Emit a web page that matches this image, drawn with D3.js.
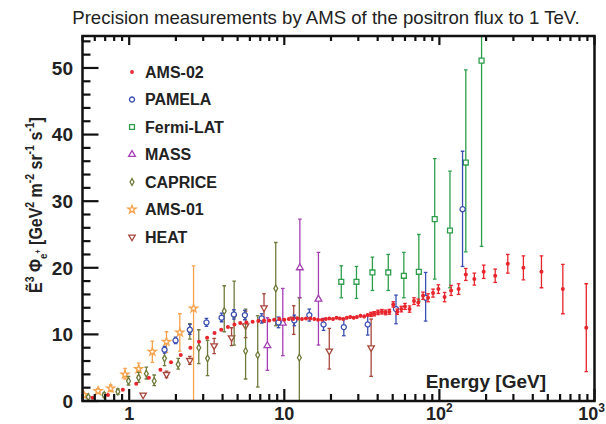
<!DOCTYPE html>
<html>
<head>
<meta charset="utf-8">
<script src="https://cdn.jsdelivr.net/npm/d3@7/dist/d3.min.js"></script>
<style>
  body { margin: 0; background: #fff; }
  svg { display: block; font-family: "Liberation Sans", Arial, Helvetica, sans-serif; }
</style>
</head>
<body>
<div id="vis"></div>
<script>
// AMS-02: [energy GeV, value, error]
const ams02 = [
  [0.58,0.5,0.05],[0.73,0.9,0.06],[0.91,1.7,0.07],[1.11,2.6,0.08],[1.34,3.5,0.09],[1.59,4.7,0.1],
  [1.86,5.8,0.1],[2.15,6.9,0.12],[2.48,8.0,0.12],[2.82,8.9,0.13],[3.18,9.5,0.13],[3.55,10.2,0.14],
  [3.92,10.7,0.14],[4.33,11.1,0.15],[4.77,11.5,0.15],[5.2,11.7,0.15],[5.7,11.8,0.15],[6.25,11.9,0.15],
  [6.8,12.0,0.15],[7.4,12.1,0.15],[8.0,12.1,0.16],[8.6,12.2,0.16],[9.3,12.3,0.16],[10.0,12.2,0.17],
  [10.7,12.3,0.17],[11.4,12.3,0.17],[12.2,12.4,0.18],[13.0,12.3,0.18],[13.8,12.4,0.19],[14.7,12.4,0.19],
  [15.6,12.3,0.2],[16.5,12.2,0.2],[17.5,12.2,0.21],[18.5,12.3,0.21],[19.5,12.4,0.22],[20.6,12.3,0.22],
  [21.7,12.5,0.23],[22.8,12.4,0.23],[24.0,12.3,0.24],[25.3,12.5,0.25],[26.6,12.6,0.25],[28.0,12.5,0.26],
  [29.4,12.6,0.27],[31.0,12.8,0.28],[32.7,12.7,0.29],[34.4,12.9,0.3],[36.2,13.0,0.31],[38.0,13.1,0.32],
  [40.2,13.3,0.33],[42.6,13.4,0.34],[45.0,13.3,0.35],[47.6,13.4,0.37],[50.4,14.5,0.4],[53.5,13.4,0.4],
  [56.8,13.8,0.42],[60.0,14.2,0.45],[64.2,13.8,0.47],[68.6,15.0,0.5],[73.1,14.8,0.5],[78.4,15.8,0.55],
  [84.5,15.5,0.6],[91.0,16.2,0.6],[98.5,16.8,0.65],[108,15.6,0.7],[119,16.6,0.75],[133,16.8,0.8],
  [148,19.0,0.9],[168,18.3,0.9],[193,19.4,1.0],[229,18.8,1.0],[276,20.6,1.4],[348,20.0,1.8],
  [455,19.4,2.4],[625,16.8,3.7],[885,11.0,6.6]
];
// other experiments: [energy GeV, value, low, high]
const pamela = [
  [1.69,7.7,7.2,8.2],[1.99,9.1,8.6,9.6],[2.46,10.7,10.0,11.5],[3.15,11.8,11.2,12.4],[3.94,12.5,11.9,13.2],
  [4.73,13.0,12.3,13.7],[5.57,12.9,12.2,13.6],[7.15,12.4,11.7,13.1],[9.17,11.8,11.0,12.6],[11.6,12.1,11.3,12.9],
  [14.5,12.9,12.0,13.8],[17.9,11.5,10.6,12.4],[24.2,11.1,9.8,12.3],[34.5,11.5,9.9,12.9],[52.5,13.8,11.6,15.9],
  [81.5,15.5,12.0,19.3],[141,28.8,20.2,37.5]
];
const fermi = [
  [23.3,17.9,15.5,20.3],[29.2,17.9,15.4,20.2],[37,19.3,16.6,21.6],[46.8,19.3,16.6,22.0],[59,18.8,15.5,22.3],
  [73.7,19.4,15.0,25.0],[93.3,27.3,18.3,36.4],[117,25.6,17.0,34.5],[148,35.8,22.4,49.7],[187,51.1,23.2,60]
];
const mass = [
  [7.78,8.3,4.6,12.5],[9.78,11.7,6.8,16.9],[12.6,20.0,15.5,27.3],[16.6,15.3,8.4,22.3]
];
const caprice = [
  [0.545,0.6,0.4,0.8],[0.69,0.9,0.6,1.2],[0.845,1.4,1.0,1.8],[0.99,3.0,2.4,3.7],[1.15,3.5,2.8,4.3],
  [1.29,4.1,3.3,5.1],[1.45,3.0,2.3,3.9],[1.69,6.4,5.3,7.5],[2.07,5.5,4.8,6.4],[2.46,10.5,9.3,11.6],
  [2.81,8.0,5.6,10.7],[3.2,6.4,3.8,9.1],[4.1,13.5,10.4,17.3],[4.75,12.8,8.4,18.0],[5.63,7.5,3.3,13.8],
  [6.74,6.9,2.1,12.8],[8.81,16.9,11.3,23.8],[12.5,6.5,0,15.5]
];
const ams01 = [
  [0.51,0.9,0.6,1.2],[0.63,1.5,1.1,1.9],[0.76,1.9,1.4,2.4],[0.94,4.0,3.3,4.9],[1.15,4.8,3.8,5.7],
  [1.41,7.4,5.8,9.0],[1.74,8.9,7.3,10.4],[2.12,10.3,7.5,13.1],[2.6,13.9,0,20.3]
];
const heat = [
  [1.23,0.9,0.7,1.1],[1.74,4.0,3.5,4.5],[2.46,6.1,5.5,6.7],[3.53,8.3,7.1,9.4],[4.57,9.5,8.3,11.0],
  [5.63,11.3,9.5,13.5],[7.4,14.0,11.8,16.1],[11.5,12.3,10.0,14.3],[19.5,7.5,4.8,10.9],[36.3,8.0,3.7,12.3]
];

const xTickLabels = [[1, "1", ""], [10, "10", ""], [100, "10", "2"], [1000, "10", "3"]];
const yTickLabels = [0, 10, 20, 30, 40, 50];

const W = 606, H = 424;
const pLeft = 82.5, pRight = 594.5, pTop = 36, pBottom = 401;

var svg = d3.select("#vis").append("svg").attr("width", W).attr("height", H);

var x = d3.scaleLog().domain([0.5, 1000]).range([pLeft, pRight]);
var y = d3.scaleLinear().domain([0, 54.8]).range([pBottom, pTop]);

svg.append("text")
  .attr("x", 326).attr("y", 24)
  .attr("text-anchor", "middle")
  .style("font-size", "18.6px")
  .attr("fill", "#222")
  .text("Precision measurements by AMS of the positron flux to 1 TeV.");

svg.append("clipPath").attr("id", "plotclip")
  .append("rect").attr("x", pLeft).attr("y", pTop).attr("width", pRight - pLeft).attr("height", pBottom - pTop);

var plot = svg.append("g").attr("clip-path", "url(#plotclip)");

// series styles
const series = [
  { name: "HEAT", data: heat, color: "#a8473b", sym: d3.symbolTriangle, size: 18, rot: 180 },
  { name: "AMS-01", data: ams01, color: "#f7a24c", sym: d3.symbolStar, size: 20, rot: 0 },
  { name: "CAPRICE", data: caprice, color: "#6f7b3b", sym: d3.symbolDiamond, size: 13, rot: 0 },
  { name: "MASS", data: mass, color: "#a53fb3", sym: d3.symbolTriangle, size: 20, rot: 0 },
  { name: "Fermi-LAT", data: fermi, color: "#2f9e4c", sym: d3.symbolSquare, size: 24, rot: 0 },
  { name: "PAMELA", data: pamela, color: "#3b4fb2", sym: d3.symbolCircle, size: 20, rot: 0 }
];

series.forEach(s => {
  var g = plot.append("g");
  s.data.forEach(d => {
    var cx = x(d[0]);
    g.append("line")
      .attr("x1", cx).attr("x2", cx)
      .attr("y1", y(d[2])).attr("y2", y(d[3]))
      .attr("stroke", s.color).attr("stroke-width", 1.3);
    [d[2], d[3]].forEach(v => {
      g.append("line")
        .attr("x1", cx - 1.8).attr("x2", cx + 1.8)
        .attr("y1", y(v)).attr("y2", y(v))
        .attr("stroke", s.color).attr("stroke-width", 1.3);
    });
    g.append("path")
      .attr("d", d3.symbol().type(s.sym).size(s.size))
      .attr("transform", "translate(" + cx + "," + y(d[1]) + ") rotate(" + s.rot + ")")
      .attr("fill", "#fff")
      .attr("stroke", s.color).attr("stroke-width", 1.3);
  });
});

// AMS-02 on top
var red = "#e8242c";
var ga = plot.append("g");
ams02.forEach(d => {
  var cx = x(d[0]);
  ga.append("line")
    .attr("x1", cx).attr("x2", cx)
    .attr("y1", y(d[1] - d[2])).attr("y2", y(d[1] + d[2]))
    .attr("stroke", red).attr("stroke-width", 1.3);
  if (d[2] > 0.3) {
    [d[1] - d[2], d[1] + d[2]].forEach(v => {
      ga.append("line")
        .attr("x1", cx - 1.8).attr("x2", cx + 1.8)
        .attr("y1", y(v)).attr("y2", y(v))
        .attr("stroke", red).attr("stroke-width", 1.3);
    });
  }
  ga.append("circle")
    .attr("cx", cx).attr("cy", y(d[1])).attr("r", 2)
    .attr("fill", red);
});

// frame and ticks
var axes = svg.append("g").attr("stroke", "#111");
var decades = [1, 10, 100, 1000];
x.ticks().forEach(t => {
  var major = decades.indexOf(t) >= 0;
  axes.append("line")
    .attr("x1", x(t)).attr("x2", x(t))
    .attr("y1", pBottom).attr("y2", pBottom - (major ? 12 : 7))
    .attr("stroke-width", 2.2);
  axes.append("line")
    .attr("x1", x(t)).attr("x2", x(t))
    .attr("y1", pTop).attr("y2", pTop + (major ? 9 : 5))
    .attr("stroke-width", 2.2);
});
d3.range(0, 55, 2).forEach(t => {
  var major = t % 10 === 0;
  axes.append("line")
    .attr("x1", pLeft).attr("x2", pLeft + (major ? 16 : 8))
    .attr("y1", y(t)).attr("y2", y(t))
    .attr("stroke-width", 2.2);
});
axes.append("rect")
  .attr("x", pLeft).attr("y", pTop)
  .attr("width", pRight - pLeft).attr("height", pBottom - pTop)
  .attr("fill", "none").attr("stroke-width", 2.5);

// tick labels
xTickLabels.forEach(d => {
  var last = d[0] === 1000;
  var t = svg.append("text")
    .attr("x", last ? 605 : x(d[0])).attr("y", 420)
    .attr("text-anchor", last ? "end" : "middle")
    .style("font-size", "18px").style("font-weight", "bold")
    .attr("fill", "#222");
  t.append("tspan").text(d[1]);
  if (d[2]) t.append("tspan").attr("dy", -8).style("font-size", "12px").text(d[2]);
});
yTickLabels.forEach(v => {
  svg.append("text")
    .attr("x", 73).attr("y", y(v)).attr("dy", "0.36em")
    .attr("text-anchor", "end")
    .style("font-size", "19px").style("font-weight", "bold")
    .attr("fill", "#222")
    .text(v);
});

// axis titles
svg.append("text")
  .attr("x", 546).attr("y", 388)
  .attr("text-anchor", "end")
  .style("font-size", "19px").style("font-weight", "bold")
  .attr("fill", "#222")
  .text("Energy [GeV]");

var yt = svg.append("text")
  .attr("transform", "translate(42,205) rotate(-90) scale(0.84,1)")
  .attr("text-anchor", "middle")
  .style("font-size", "19px").style("font-weight", "bold")
  .attr("fill", "#222");
yt.append("tspan").text("Ẽ");
yt.append("tspan").attr("dy", -8).style("font-size", "12.5px").text("3");
yt.append("tspan").attr("dy", 8).text(" Φ");
yt.append("tspan").attr("dy", 5).style("font-size", "11.5px").text("e");
yt.append("tspan").attr("dy", -6).style("font-size", "8.5px").text("+");
yt.append("tspan").attr("dy", 1).text(" [GeV");
yt.append("tspan").attr("dy", -8).style("font-size", "12.5px").text("2");
yt.append("tspan").attr("dy", 8).text(" m");
yt.append("tspan").attr("dy", -8).style("font-size", "12.5px").text("-2");
yt.append("tspan").attr("dy", 8).text(" sr");
yt.append("tspan").attr("dy", -8).style("font-size", "12.5px").text("-1");
yt.append("tspan").attr("dy", 8).text(" s");
yt.append("tspan").attr("dy", -8).style("font-size", "12.5px").text("-1");
yt.append("tspan").attr("dy", 8).text("]");

// legend
var legendOrder = ["AMS-02", "PAMELA", "Fermi-LAT", "MASS", "CAPRICE", "AMS-01", "HEAT"];
legendOrder.forEach((name, i) => {
  var ly = 72 + i * 27.5;
  if (name === "AMS-02") {
    svg.append("circle").attr("cx", 132).attr("cy", ly).attr("r", 1.9).attr("fill", red);
  } else {
    var s = series.find(e => e.name === name);
    svg.append("path")
      .attr("d", d3.symbol().type(s.sym).size(s.size))
      .attr("transform", "translate(132," + ly + ") rotate(" + s.rot + ")")
      .attr("fill", "#fff")
      .attr("stroke", s.color).attr("stroke-width", 1.3);
  }
  svg.append("text")
    .attr("x", 145).attr("y", ly).attr("dy", "0.36em")
    .style("font-size", "16px").style("font-weight", "bold")
    .attr("fill", "#222")
    .text(name);
});
</script>
</body>
</html>
